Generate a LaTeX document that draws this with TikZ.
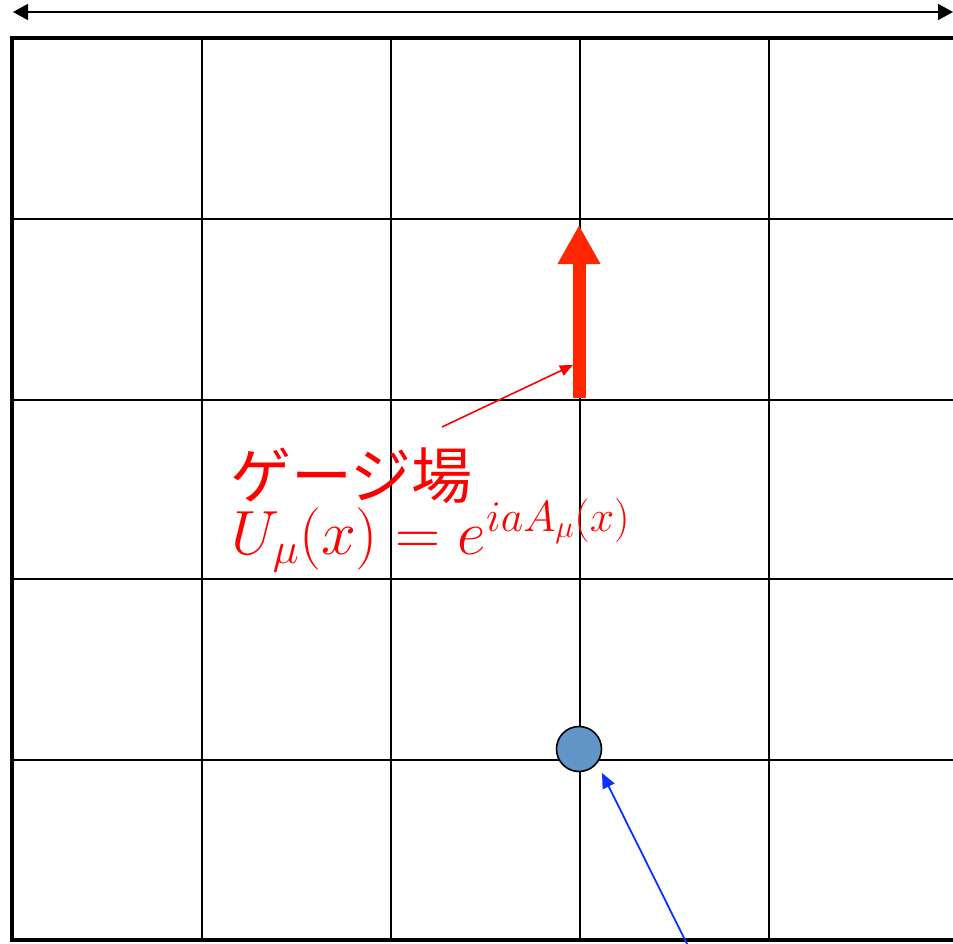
\documentclass[tikz,border=0pt]{standalone}
\usepackage{fix-cm}
\usepackage{fontspec}
\newfontfamily\cjk{Noto Sans CJK JP}
\usetikzlibrary{arrows.meta}
\definecolor{gaugered}{RGB}{255,38,0}
\definecolor{txtred}{RGB}{255,0,0}
\definecolor{sitefill}{RGB}{98,150,200}
\definecolor{ptrblue}{RGB}{10,50,255}
\tikzset{
  gridline/.style={line width=2.6pt,black},
  frameline/.style={line width=4.8pt,black},
  sitenode/.style={circle,draw=black,line width=1.6pt,fill=sitefill,minimum size=45pt,inner sep=0pt},
  lbltext/.style={text=txtred,inner sep=0pt},
}
\begin{document}
\begin{tikzpicture}[x=1pt,y=-1pt]
\useasboundingbox (0,0) rectangle (953,944);
\begin{scope}
\clip (0,0) rectangle (953,944);
% grid
\foreach \x in {202,391,580,769} \draw[gridline] (\x,38) -- (\x,940);
\foreach \y in {219,400,579,760} \draw[gridline] (12,\y) -- (960,\y);
% frame
\draw[frameline] (960,38) -- (12,38) -- (12,940) -- (960,940);
% top double arrow
\coordinate (tl) at (13,12);
\coordinate (tr) at (953,12);
\draw[line width=1.5pt,{Triangle[length=15pt,width=16pt]}-{Triangle[length=15pt,width=16pt]}] (tl) -- (tr);
% gauge link arrow
\coordinate (linkbot) at (579,398);
\coordinate (linktop) at (579,225);
\draw[gaugered,line width=13pt,-{Triangle[length=39pt,width=40pt]}] (linkbot) -- (linktop);
% label
\node[lbltext,anchor=base west,font=\cjk\fontsize{61}{64}\selectfont] (lbl) at (230,498) {ゲージ場};
\node[lbltext,anchor=base west,font=\fontsize{62.5}{66}\selectfont] (eq) at (231,554) {$U_\mu(x)=e^{iaA_\mu(x)}$};
\coordinate (pstart) at (442,427);
\coordinate (ptip) at (573,365);
\draw[txtred,line width=1.6pt,-{Triangle[length=13pt,width=11pt]}] (pstart) -- (ptip);
% site
\node[sitenode] (site) at (579,749) {};
\coordinate (bstart) at (688,946);
\coordinate (btip) at (602,773);
\draw[ptrblue,line width=1.8pt,-{Triangle[length=15pt,width=13pt]}] (bstart) -- (btip);
\end{scope}
\end{tikzpicture}
\end{document}
